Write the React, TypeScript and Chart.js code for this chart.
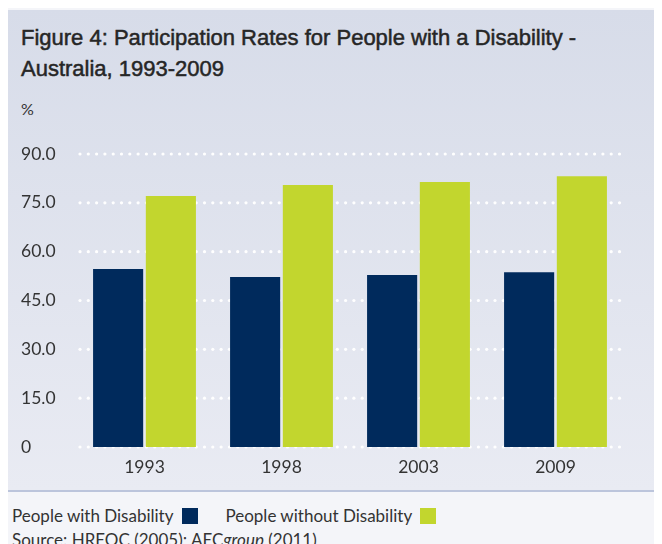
import React, { useEffect, useRef } from "react";
import { Chart, registerables } from "chart.js";

Chart.register(...registerables);

const years = ["1993", "1998", "2003", "2009"];
const withDisability = [54.7, 52.2, 52.8, 53.7];
const withoutDisability = [77.1, 80.5, 81.4, 83.2];
const yMin = 0;
const yMax = 90;
const yStep = 15;

const NAVY = "#002a5c";
const GREEN = "#c2d62e";
const TEXT = "#333333";
const BODY_FONT = "Lato, 'Liberation Sans', sans-serif";
const TITLE_FONT = "'Liberation Sans Narrow', 'Liberation Sans', sans-serif";

const dotGrid = {
  id: "dotGrid",
  beforeDatasetsDraw(chart: any) {
    const { ctx, chartArea, scales } = chart;
    const y = scales.y;
    ctx.save();
    ctx.fillStyle = "#ffffff";
    y.ticks.forEach((t: any) => {
      const py = y.getPixelForValue(t.value);
      for (let x = chartArea.left + 4; x <= chartArea.right - 2; x += 8.3) {
        ctx.beginPath();
        ctx.arc(x, py, 1.6, 0, Math.PI * 2);
        ctx.fill();
      }
    });
    ctx.restore();
  },
};

function BarChart() {
  const ref = useRef<HTMLCanvasElement | null>(null);
  useEffect(() => {
    if (!ref.current) return;
    const chart = new Chart(ref.current, {
      type: "bar",
      data: {
        labels: years,
        datasets: [
          {
            label: "People with Disability",
            data: withDisability,
            backgroundColor: NAVY,
            borderWidth: 0,
            categoryPercentage: 0.77,
            barPercentage: 0.95,
          },
          {
            label: "People without Disability",
            data: withoutDisability,
            backgroundColor: GREEN,
            borderWidth: 0,
            categoryPercentage: 0.77,
            barPercentage: 0.95,
          },
        ],
      },
      options: {
        animation: false,
        responsive: false,
        maintainAspectRatio: false,
        layout: { padding: { top: 14, right: 38, left: 13, bottom: 0 } },
        plugins: {
          legend: { display: false },
          tooltip: { enabled: false },
          title: { display: false },
        },
        scales: {
          x: {
            grid: { display: false, drawTicks: false },
            border: { display: false },
            ticks: {
              color: TEXT,
              font: { family: BODY_FONT, size: 17.5 },
              padding: 10,
            },
            afterFit(s: any) {
              s.height = 38;
            },
          },
          y: {
            min: yMin,
            max: yMax,
            grid: { display: false, drawTicks: false },
            border: { display: false },
            ticks: {
              stepSize: yStep,
              crossAlign: "far",
              color: TEXT,
              font: { family: BODY_FONT, size: 17.5 },
              callback: (v: any) => (Number(v) === 0 ? "0" : Number(v).toFixed(1)),
            },
            afterFit(s: any) {
              s.width = 55;
            },
          },
        },
      },
      plugins: [dotGrid],
    });
    return () => chart.destroy();
  }, []);
  return <canvas ref={ref} width={654} height={345} style={{ display: "block", width: 654, height: 345 }} />;
}

export default function App() {
  return (
    <div style={{ position: "relative", width: 654, height: 536, overflow: "hidden", background: "#f4f5f9" }}>
      <div
        style={{
          position: "absolute",
          left: 0,
          top: 2,
          width: 654,
          height: 480,
          background: "linear-gradient(#d7dce9, #e9ebf3)",
          borderBottom: "2px solid #bcc5dc",
        }}
      />
      <div
        style={{
          position: "absolute",
          left: 13,
          top: 14,
          fontFamily: TITLE_FONT,
          fontWeight: "normal",
          fontSize: 22,
          lineHeight: "31px",
          color: "#262626",
          WebkitTextStroke: "0.5px #262626",
          whiteSpace: "nowrap",
        }}
      >
        Figure 4: Participation Rates for People with a Disability -<br />
        Australia, 1993-2009
      </div>
      <div style={{ position: "absolute", left: 13, top: 91, fontFamily: BODY_FONT, fontSize: 16, color: TEXT }}>%</div>
      <div style={{ position: "absolute", left: 0, top: 132 }}>
        <BarChart />
      </div>
      <div
        style={{
          position: "absolute",
          left: 4,
          top: 497,
          display: "flex",
          alignItems: "center",
          fontFamily: BODY_FONT,
          fontSize: 17,
          color: TEXT,
          whiteSpace: "nowrap",
        }}
      >
        <span>People with Disability</span>
        <span style={{ display: "inline-block", width: 16, height: 16, background: NAVY, marginLeft: 9 }} />
        <span style={{ marginLeft: 27 }}>People without Disability</span>
        <span style={{ display: "inline-block", width: 16, height: 16, background: GREEN, marginLeft: 8 }} />
      </div>
      <div
        style={{
          position: "absolute",
          left: 4,
          top: 521,
          fontFamily: BODY_FONT,
          fontSize: 17,
          color: TEXT,
          whiteSpace: "nowrap",
        }}
      >
        Source: HREOC (2005); AEC<i>group</i> (2011)
      </div>
    </div>
  );
}
